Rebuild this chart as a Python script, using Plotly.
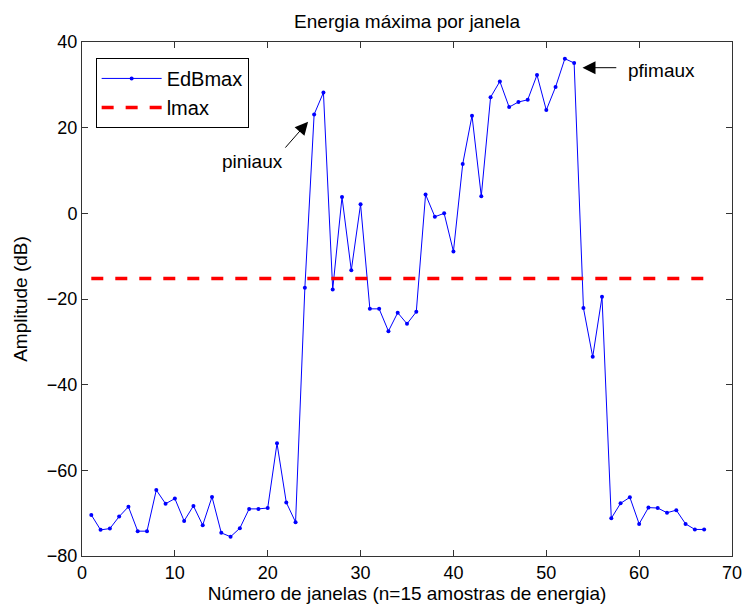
import plotly.graph_objects as go

# Janela index and maximum energy (dB) per window
janelas = list(range(1, 68))
edbmax = [
    -70.4, -73.9, -73.6, -70.8, -68.5, -74.2, -74.2, -64.6, -67.8, -66.6,
    -71.8, -68.3, -72.8, -66.2, -74.6, -75.5, -73.5, -69.0, -69.0, -68.8,
    -53.7, -67.5, -72.1, -17.4, 23.1, 28.2, -17.8, 3.8, -13.3, 2.1,
    -22.3, -22.3, -27.5, -23.2, -25.8, -23.0, 4.4, -0.8, 0.0, -8.9,
    11.5, 22.8, 4.0, 27.1, 30.8, 24.8, 26.0, 26.5, 32.3, 24.1,
    29.5, 36.1, 35.1, -22.1, -33.5, -19.5, -71.2, -67.7, -66.3, -72.5,
    -68.7, -68.8, -69.9, -69.3, -72.5, -73.8, -73.8,
]
# Threshold level
lmax = -15.2

x_ticks = [0, 10, 20, 30, 40, 50, 60, 70]
y_ticks = [-80, -60, -40, -20, 0, 20, 40]

FONT = "Liberation Sans, Arial, sans-serif"
AXC = "#333333"

fig = go.Figure()
fig.add_trace(go.Scatter(
    x=janelas, y=edbmax, name="EdBmax", mode="lines+markers",
    line=dict(color="#0000ff", width=1),
    marker=dict(color="#0000ff", size=4),
))
fig.add_trace(go.Scatter(
    x=[janelas[0], janelas[-1]], y=[lmax, lmax], name="lmax", mode="lines",
    line=dict(color="#ff0000", width=3.5, dash="12px,12px"),
))

axis_common = dict(
    showgrid=False, zeroline=False, showline=True, linecolor=AXC, linewidth=1,
    mirror="ticks", ticks="inside", ticklen=6, tickcolor=AXC, tickwidth=1,
    tickfont=dict(family=FONT, size=18, color="black"), automargin=False,
)
fig.update_xaxes(
    range=[0, 70], tickvals=x_ticks, **axis_common,
    title=dict(text="Número de janelas (n=15 amostras de energia)",
               font=dict(family=FONT, size=19, color="black"), standoff=2),
)
fig.update_yaxes(
    range=[-80, 40], tickvals=y_ticks, tickformat="d", **axis_common,
    title=dict(text="Amplitude (dB)",
               font=dict(family=FONT, size=19, color="black"), standoff=14),
)

# Arrow annotations
fig.add_annotation(x=24.35, y=21.4, ax=21.76, ay=15.0, xref="x", yref="y",
                   axref="x", ayref="y", text="", showarrow=True,
                   arrowhead=2, arrowsize=2.6, arrowwidth=1, arrowcolor="black")
fig.add_annotation(x=18.4, y=12.2, xref="x", yref="y", text="piniaux",
                   showarrow=False, font=dict(family=FONT, size=19, color="black"))
fig.add_annotation(x=53.9, y=34.0, ax=57.7, ay=34.0, xref="x", yref="y",
                   axref="x", ayref="y", text="", showarrow=True,
                   arrowhead=2, arrowsize=2.6, arrowwidth=1, arrowcolor="black")
fig.add_annotation(x=58.6, y=33.4, xref="x", yref="y", text="pfimaux",
                   xanchor="left", showarrow=False,
                   font=dict(family=FONT, size=19, color="black"))

fig.update_layout(
    width=747, height=612,
    margin=dict(l=82, r=15, t=42, b=56),
    paper_bgcolor="white", plot_bgcolor="white",
    title=dict(text="Energia máxima por janela", x=0.545, xanchor="center",
               y=1 - 21 / 612, yanchor="middle",
               font=dict(family=FONT, size=19, color="black")),
    showlegend=True,
    legend=dict(x=0.021, y=0.969, xanchor="left", yanchor="top",
                bordercolor="black", borderwidth=1, bgcolor="white",
                itemwidth=60, font=dict(family=FONT, size=20, color="black"),
                tracegroupgap=0),
)

fig.write_html("out.html")
